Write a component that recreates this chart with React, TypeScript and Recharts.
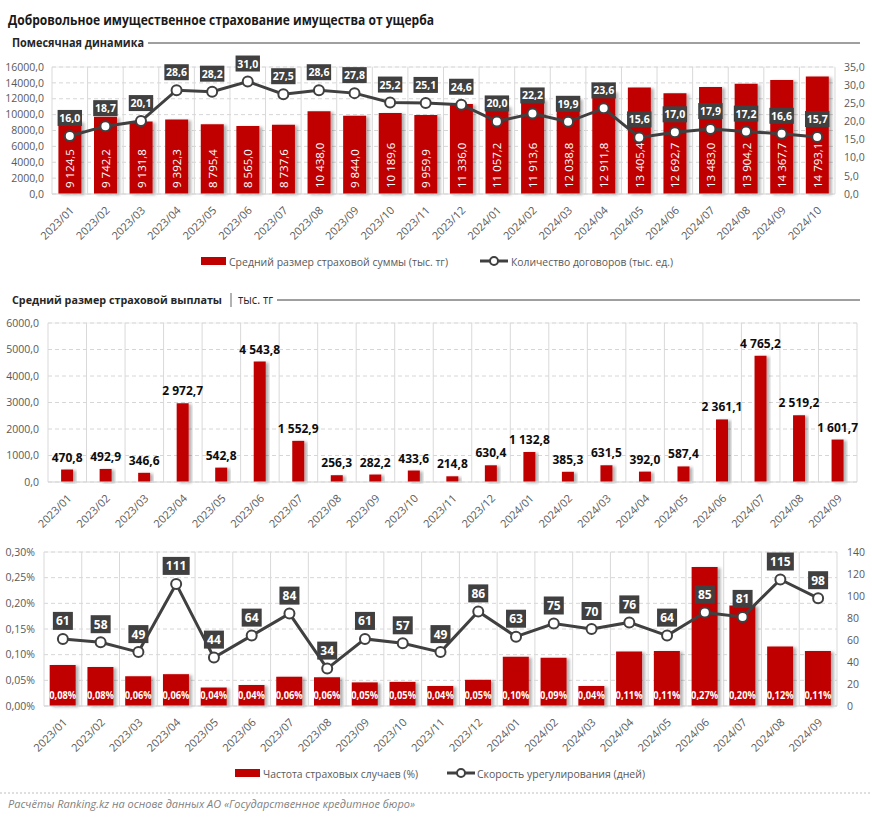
import React from 'react';
import { ComposedChart, Bar, Line, XAxis, YAxis, CartesianGrid, LabelList, Rectangle } from 'recharts';

const months1 = ['2023/01','2023/02','2023/03','2023/04','2023/05','2023/06','2023/07','2023/08','2023/09','2023/10','2023/11','2023/12','2024/01','2024/02','2024/03','2024/04','2024/05','2024/06','2024/07','2024/08','2024/09','2024/10'];
const avgSumInsured = [9124.5,9742.2,9131.8,9392.3,8795.4,8565.0,8737.6,10438.0,9844.0,10189.6,9959.9,11336.0,11057.2,11913.6,12038.8,12911.8,13405.4,12692.7,13483.0,13904.2,14367.7,14793.1];
const contractsCount = [16.0,18.7,20.1,28.6,28.2,31.0,27.5,28.6,27.8,25.2,25.1,24.6,20.0,22.2,19.9,23.6,15.6,17.0,17.9,17.2,16.6,15.7];

const months2 = ['2023/01','2023/02','2023/03','2023/04','2023/05','2023/06','2023/07','2023/08','2023/09','2023/10','2023/11','2023/12','2024/01','2024/02','2024/03','2024/04','2024/05','2024/06','2024/07','2024/08','2024/09'];
const avgPayout = [470.8,492.9,346.6,2972.7,542.8,4543.8,1552.9,256.3,282.2,433.6,214.8,630.4,1132.8,385.3,631.5,392.0,587.4,2361.1,4765.2,2519.2,1601.7];
const claimFrequency = [0.080,0.076,0.058,0.062,0.036,0.041,0.057,0.056,0.046,0.047,0.039,0.051,0.096,0.094,0.039,0.106,0.107,0.271,0.196,0.116,0.107];
const settlementDays = [61,58,49,111,44,64,84,34,61,57,49,86,63,75,70,76,64,85,81,115,98];

const ticks1L = [0,2000,4000,6000,8000,10000,12000,14000,16000];
const ticks1R = [0,5,10,15,20,25,30,35];
const ticks2 = [0,1000,2000,3000,4000,5000,6000];
const ticks3L = [0,0.05,0.10,0.15,0.20,0.25,0.30];
const ticks3R = [0,20,40,60,80,100,120,140];

const minorTicks = (max: number, step: number) => {
  const out: number[] = [];
  for (let k = 0; k * step <= max + 1e-9; k++) out.push(+(k * step).toFixed(6));
  return out;
};
const idxTicks = (n: number) => Array.from({ length: n + 1 }, (_, k) => k);

const data1 = months1.map((m, i) => ({ m, i: i + 0.5, sum: avgSumInsured[i], cnt: contractsCount[i] }));
const data2 = months2.map((m, i) => ({ m, i: i + 0.5, pay: avgPayout[i] }));
const data3 = months2.map((m, i) => ({ m, i: i + 0.5, freq: claimFrequency[i], days: settlementDays[i] }));

const FONT = "'Open Sans', 'Noto Sans', sans-serif";
const RED = '#C00000';
const DARK = '#404040';
const AXIS = '#595959';

const fmtSpace = (v: number, d = 1) => {
  const s = v.toFixed(d);
  const [ip, dp] = s.split('.');
  const g = ip.replace(/\B(?=(\d{3})+(?!\d))/g, ' ');
  return dp !== undefined ? g + ',' + dp : g;
};
const fmt1 = (v: number) => v.toFixed(1).replace('.', ',');
const fmtPct = (v: number) => v.toFixed(2).replace('.', ',') + '%';

const RotTick = (props: any) => {
  const { x, y, payload } = props;
  const ax = x + 5;
  const ay = y + 17;
  return (
    <text x={ax} y={ay} transform={`rotate(-45 ${ax} ${ay})`} textAnchor="end" fontSize={11} fill={AXIS} fontFamily={FONT}>
      {payload.value}
    </text>
  );
};

const makeBoxLabel = (fmt: (v: number) => string, fs: number, h: number, gap: number, charW: number) => (props: any) => {
  const { x, y, value } = props;
  const t = fmt(value);
  const w = t.length * charW + 6;
  const top = y - gap - h;
  return (
    <g>
      <rect x={x - w / 2} y={top} width={w} height={h} fill={DARK} />
      <text x={x} y={top + h / 2} textAnchor="middle" dominantBaseline="central" fill="#fff" fontWeight={700} fontSize={fs} fontFamily={FONT}>{t}</text>
    </g>
  );
};
const TopLineLabel = makeBoxLabel(fmt1, 10.5, 16, 10, 4.6);
const BottomLineLabel = makeBoxLabel((v) => String(v), 12, 18, 9, 7);

const RotBarLabel = (props: any) => {
  const { x, y, width, height, value } = props;
  const cx = x + width / 2;
  const by = y + height - 6;
  return (
    <text x={cx} y={by} transform={`rotate(-90 ${cx} ${by})`} textAnchor="start" dominantBaseline="central" fill="#fff" fontSize={11.5} fontFamily={FONT}>
      {fmtSpace(value)}
    </text>
  );
};

const TopValueLabel = (props: any) => {
  const { x, y, width, value } = props;
  return (
    <text x={x + width / 2} y={y - 8} textAnchor="middle" fill="#0d0d0d" fontWeight={700} fontSize={12} fontFamily={FONT}>
      {fmtSpace(value)}
    </text>
  );
};

const PctBarLabel = (props: any) => {
  const { x, y, width, height, value } = props;
  return (
    <text x={x + width / 2} y={y + height - 12} textAnchor="middle" dominantBaseline="central" fill="#fff" fontWeight={700} fontSize={11} fontFamily={FONT} textLength={27} lengthAdjust="spacingAndGlyphs">
      {fmtPct(value)}
    </text>
  );
};

const ShadowBar = (props: any) => <Rectangle {...props} filter="url(#barShadow)" />;

const Defs = () => (
  <defs>
    <filter id="barShadow" x="-20%" y="-10%" width="150%" height="120%">
      <feDropShadow dx="3" dy="1" stdDeviation="1.8" floodColor="#000" floodOpacity="0.3" />
    </filter>
  </defs>
);

const yTickStyle = { fontSize: 10.5, fill: AXIS, fontFamily: FONT };

export default function App() {
  return (
    <div style={{ position: 'relative', width: 872, height: 817, background: '#fff', overflow: 'hidden' }}>
      <style>{`body{margin:0}`}</style>
      <svg width={872} height={817} style={{ position: 'absolute', left: 0, top: 0 }}>
        <text x={8} y={25} fontSize={14} fontWeight={700} fill="#1a1a1a" fontFamily={FONT} textLength={426} lengthAdjust="spacingAndGlyphs">Добровольное имущественное страхование имущества от ущерба</text>
        <text x={12} y={46.5} fontSize={12} fontWeight={700} fill="#262626" fontFamily={FONT} textLength={132} lengthAdjust="spacingAndGlyphs">Помесячная динамика</text>
        <line x1={148} x2={860} y1={43} y2={43} stroke={DARK} strokeWidth={1} />
        <text x={12} y={303.5} fontSize={11} fontWeight={700} fill="#262626" fontFamily={FONT} textLength={210} lengthAdjust="spacingAndGlyphs">Средний размер страховой выплаты</text>
        <line x1={231} x2={231} y1={293} y2={307} stroke="#7f7f7f" strokeWidth={1.2} />
        <text x={238} y={303.5} fontSize={12} fill="#262626" fontFamily={FONT} textLength={35} lengthAdjust="spacingAndGlyphs">тыс. тг</text>
        <line x1={277} x2={860} y1={300} y2={300} stroke={DARK} strokeWidth={1} />

        {/* legend 1 */}
        <rect x={201} y={257} width={25} height={8} fill={RED} />
        <text x={229} y={265.5} fontSize={11.5} fill={AXIS} fontFamily={FONT} textLength={219} lengthAdjust="spacingAndGlyphs">Средний размер страховой суммы (тыс. тг)</text>
        <line x1={480} x2={508} y1={261} y2={261} stroke={DARK} strokeWidth={3} />
        <circle cx={494} cy={261} r={4} fill="#fff" stroke={DARK} strokeWidth={2} />
        <text x={511} y={265.5} fontSize={11.5} fill={AXIS} fontFamily={FONT} textLength={162} lengthAdjust="spacingAndGlyphs">Количество договоров (тыс. ед.)</text>

        {/* legend 3 */}
        <rect x={235} y={769} width={25} height={8} fill={RED} />
        <text x={263} y={777.5} fontSize={11.5} fill={AXIS} fontFamily={FONT} textLength={155} lengthAdjust="spacingAndGlyphs">Частота страховых случаев (%)</text>
        <line x1={447} x2={475} y1={773} y2={773} stroke={DARK} strokeWidth={3} />
        <circle cx={461} cy={773} r={4} fill="#fff" stroke={DARK} strokeWidth={2} />
        <text x={477} y={777.5} fontSize={11.5} fill={AXIS} fontFamily={FONT} textLength={168} lengthAdjust="spacingAndGlyphs">Скорость урегулирования (дней)</text>

        <line x1={0} x2={872} y1={793} y2={793} stroke="#bfbfbf" strokeWidth={1} strokeDasharray="2 2" />
        <text x={8} y={808} fontSize={11} fontStyle="italic" fill="#7f7f7f" fontFamily={FONT} textLength={407} lengthAdjust="spacingAndGlyphs">Расчёты Ranking.kz на основе данных АО «Государственное кредитное бюро»</text>
      </svg>

      {/* Chart 1 */}
      <div style={{ position: 'absolute', left: 0, top: 50 }}>
        <ComposedChart width={872} height={200} data={data1} margin={{ top: 17, right: 0, bottom: 0, left: 0 }} barCategoryGap="18%">
          <Defs />
          <XAxis xAxisId="cat" dataKey="m" interval={0} tick={<RotTick />} tickLine={false} tickSize={0} tickMargin={0} height={56} axisLine={{ stroke: '#d9d9d9' }} />
          <XAxis xAxisId="grid" type="number" dataKey="i" domain={[0, months1.length]} ticks={idxTicks(months1.length)} hide allowDataOverflow />
          <YAxis yAxisId="left" domain={[0, 16000]} ticks={ticks1L} interval={0} tickFormatter={fmt1} width={52} axisLine={false} tickLine={false} tickSize={0} tickMargin={8} tick={yTickStyle} />
          <YAxis yAxisId="right" orientation="right" domain={[0, 35]} ticks={ticks1R} interval={0} tickFormatter={fmt1} width={37} axisLine={false} tickLine={false} tickSize={0} tickMargin={9} tick={{ ...yTickStyle, textAnchor: 'start' }} />
          <YAxis yAxisId="minor" domain={[0, 16000]} ticks={minorTicks(16000, 400)} interval={0} hide />
          <CartesianGrid xAxisId="grid" yAxisId="minor" vertical={false} stroke="#efefef" />
          <CartesianGrid xAxisId="grid" yAxisId="left" vertical={false} stroke="#d6d6d6" strokeDasharray="4 3" />
          <CartesianGrid xAxisId="grid" yAxisId="left" horizontal={false} stroke="#d9d9d9" />
          <Bar xAxisId="cat" yAxisId="left" dataKey="sum" fill={RED} isAnimationActive={false} shape={<ShadowBar />}>
            <LabelList dataKey="sum" content={<RotBarLabel />} />
          </Bar>
          <Line xAxisId="cat" yAxisId="right" dataKey="cnt" stroke={DARK} strokeWidth={3} dot={{ r: 5, fill: '#fff', stroke: DARK, strokeWidth: 2 }} isAnimationActive={false}>
            <LabelList dataKey="cnt" content={<TopLineLabel />} />
          </Line>
        </ComposedChart>
      </div>

      {/* Chart 2 */}
      <div style={{ position: 'absolute', left: 0, top: 300 }}>
        <ComposedChart width={872} height={230} data={data2} margin={{ top: 23, right: 15, bottom: 0, left: 0 }} barCategoryGap="34%">
          <Defs />
          <XAxis xAxisId="cat" dataKey="m" interval={0} tick={<RotTick />} tickLine={false} tickSize={0} tickMargin={0} height={48} axisLine={{ stroke: '#d9d9d9' }} />
          <XAxis xAxisId="grid" type="number" dataKey="i" domain={[0, months2.length]} ticks={idxTicks(months2.length)} hide allowDataOverflow />
          <YAxis yAxisId="left" domain={[0, 6000]} ticks={ticks2} interval={0} tickFormatter={fmt1} width={48} axisLine={false} tickLine={false} tickSize={0} tickMargin={9} tick={yTickStyle} />
          <YAxis yAxisId="minor" domain={[0, 6000]} ticks={minorTicks(6000, 200)} interval={0} hide />
          <CartesianGrid xAxisId="grid" yAxisId="minor" vertical={false} stroke="#efefef" />
          <CartesianGrid xAxisId="grid" yAxisId="left" vertical={false} stroke="#d6d6d6" strokeDasharray="4 3" />
          <CartesianGrid xAxisId="grid" yAxisId="left" horizontal={false} stroke="#d9d9d9" />
          <Bar xAxisId="cat" yAxisId="left" dataKey="pay" fill={RED} isAnimationActive={false} shape={<ShadowBar />}>
            <LabelList dataKey="pay" content={<TopValueLabel />} />
          </Bar>
        </ComposedChart>
      </div>

      {/* Chart 3 */}
      <div style={{ position: 'absolute', left: 0, top: 540 }}>
        <ComposedChart width={872} height={220} data={data3} margin={{ top: 12, right: 0, bottom: 0, left: 0 }} barCategoryGap="15%">
          <Defs />
          <XAxis xAxisId="cat" dataKey="m" interval={0} tick={<RotTick />} tickLine={false} tickSize={0} tickMargin={0} height={54} axisLine={{ stroke: '#d9d9d9' }} />
          <XAxis xAxisId="grid" type="number" dataKey="i" domain={[0, months2.length]} ticks={idxTicks(months2.length)} hide allowDataOverflow />
          <YAxis yAxisId="left" domain={[0, 0.3]} ticks={ticks3L} interval={0} tickFormatter={fmtPct} width={44} axisLine={false} tickLine={false} tickSize={0} tickMargin={9} tick={yTickStyle} />
          <YAxis yAxisId="right" orientation="right" domain={[0, 140]} ticks={ticks3R} interval={0} width={35} axisLine={false} tickLine={false} tickSize={0} tickMargin={10} tick={{ ...yTickStyle, textAnchor: 'start' }} />
          <YAxis yAxisId="minor" domain={[0, 0.3]} ticks={minorTicks(0.3, 0.01)} interval={0} hide />
          <CartesianGrid xAxisId="grid" yAxisId="minor" vertical={false} stroke="#efefef" />
          <CartesianGrid xAxisId="grid" yAxisId="left" vertical={false} stroke="#d6d6d6" strokeDasharray="4 3" />
          <CartesianGrid xAxisId="grid" yAxisId="left" horizontal={false} stroke="#d9d9d9" />
          <Bar xAxisId="cat" yAxisId="left" dataKey="freq" fill={RED} isAnimationActive={false} shape={<ShadowBar />}>
            <LabelList dataKey="freq" content={<PctBarLabel />} />
          </Bar>
          <Line xAxisId="cat" yAxisId="right" dataKey="days" stroke={DARK} strokeWidth={3} dot={{ r: 5, fill: '#fff', stroke: DARK, strokeWidth: 2 }} isAnimationActive={false}>
            <LabelList dataKey="days" content={<BottomLineLabel />} />
          </Line>
        </ComposedChart>
      </div>
    </div>
  );
}
